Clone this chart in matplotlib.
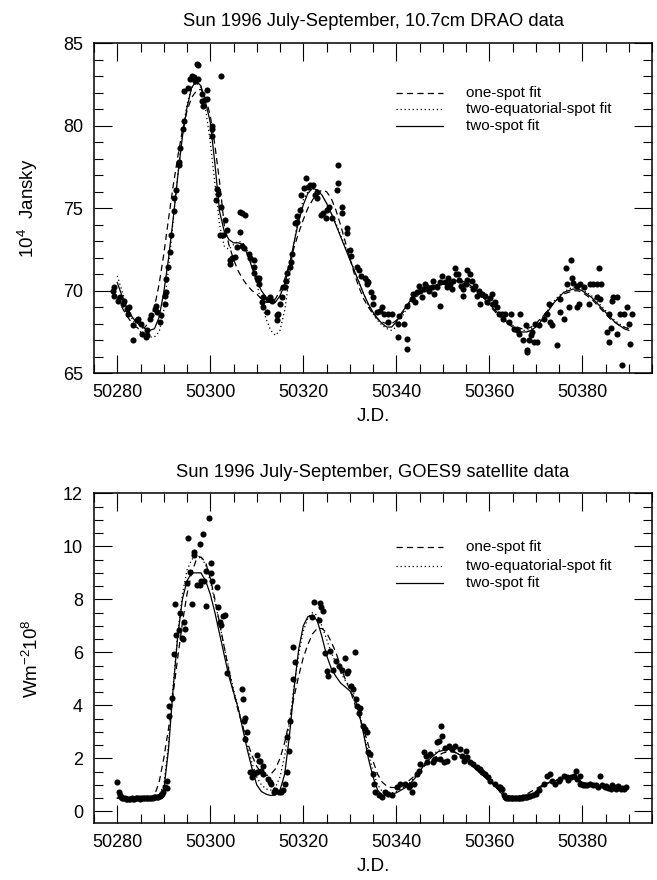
import numpy as np
import matplotlib
matplotlib.use("Agg")
import matplotlib.pyplot as plt
from matplotlib.ticker import MultipleLocator

plt.rcParams['font.family'] = ['Liberation Sans', 'DejaVu Sans']
plt.rcParams['mathtext.fontset'] = 'custom'
plt.rcParams['mathtext.rm'] = 'Liberation Sans'
plt.rcParams['mathtext.it'] = 'Liberation Sans:italic'
plt.rcParams['lines.scale_dashes'] = False

# ---------------- DRAO 10.7 cm data (top panel) ----------------
drao_jd = [50279.1, 50279.2, 50279.3, 50280.2, 50280.5, 50281.3, 50281.5, 50282.0, 50282.4, 50282.6,
           50283.3, 50283.4, 50284.2, 50284.5, 50285.2, 50285.3, 50286.1, 50286.3, 50286.5, 50287.0,
           50287.2, 50288.1, 50288.3, 50288.5, 50289.2, 50289.3, 50290.3, 50290.3, 50290.4, 50290.5,
           50291.0, 50291.3, 50291.5, 50292.1, 50292.3, 50292.6, 50293.2, 50293.3, 50293.5, 50294.2,
           50294.4, 50294.4, 50295.3, 50295.7, 50296.0, 50296.4, 50296.7, 50297.2, 50297.4, 50297.3,
           50298.2, 50298.3, 50298.5, 50299.2, 50299.3, 50300.3, 50300.3, 50300.4, 50301.4, 50301.6,
           50301.3, 50302.3, 50302.3, 50302.1, 50302.8, 50303.2, 50303.5, 50304.3, 50304.6, 50304.3,
           50305.3, 50305.8, 50306.4, 50306.8, 50307.5, 50306.4, 50306.9, 50307.3, 50308.4, 50308.5,
           50309.3, 50309.3, 50309.5, 50310.0, 50310.2, 50310.4, 50310.4, 50311.1, 50311.3, 50311.4,
           50312.2, 50312.5, 50312.9, 50313.2, 50314.3, 50314.3, 50314.6, 50315.0, 50315.4, 50315.7,
           50316.1, 50316.3, 50316.4, 50317.2, 50317.3, 50317.5, 50318.3, 50318.6, 50318.6, 50319.3,
           50319.5, 50320.2, 50320.6, 50321.1, 50321.4, 50322.2, 50322.6, 50323.0, 50323.0, 50323.8,
           50324.3, 50324.8, 50325.0, 50325.6, 50326.2, 50327.4, 50327.4, 50327.3, 50328.4, 50328.3,
           50329.4, 50329.5, 50330.1, 50330.3, 50331.5, 50331.9, 50332.5, 50333.3, 50333.6, 50333.8,
           50334.0, 50334.6, 50335.1, 50335.1, 50335.8, 50336.5, 50336.9, 50337.3, 50338.3, 50338.3,
           50339.1, 50340.3, 50340.5, 50340.4, 50341.6, 50342.3, 50342.3, 50342.4, 50343.4, 50343.7,
           50344.0, 50344.5, 50344.8, 50345.2, 50345.5, 50345.9, 50346.2, 50346.6, 50347.0, 50347.7,
           50347.9, 50348.2, 50348.8, 50349.3, 50349.5, 50349.9, 50350.5, 50350.9, 50351.2, 50351.6,
           50352.0, 50352.3, 50352.7, 50352.9, 50353.3, 50353.5, 50353.9, 50354.4, 50354.4, 50355.0,
           50355.2, 50355.2, 50355.9, 50356.3, 50356.6, 50357.0, 50357.4, 50357.8, 50358.1, 50358.4,
           50359.1, 50359.5, 50360.2, 50360.5, 50360.9, 50361.3, 50361.7, 50362.0, 50362.7, 50363.0,
           50363.4, 50364.2, 50364.6, 50365.3, 50366.0, 50366.3, 50366.7, 50367.3, 50367.8, 50368.1,
           50368.2, 50368.6, 50368.9, 50369.2, 50369.6, 50370.3, 50369.9, 50370.6, 50371.7, 50372.4,
           50372.8, 50373.1, 50373.5, 50374.6, 50375.3, 50375.3, 50376.0, 50376.4, 50376.7, 50377.1,
           50377.5, 50377.8, 50378.1, 50378.9, 50379.2, 50378.9, 50379.6, 50380.3, 50381.4, 50381.7,
           50382.4, 50383.1, 50383.6, 50384.1, 50383.1, 50383.8, 50385.4, 50385.8, 50386.1, 50385.8,
           50386.4, 50386.6, 50387.5, 50387.5, 50388.2, 50388.6, 50388.9, 50389.6, 50390.0, 50390.3,
           50390.6]
drao_flux = [70.0, 69.7, 70.2, 69.4, 69.6, 69.2, 69.4, 68.9, 68.6, 69.0,
             67.9, 67.0, 68.25, 68.3, 68.0, 67.4, 67.2, 67.65, 67.3, 68.3,
             68.5, 68.9, 69.05, 68.7, 68.1, 68.5, 69.2, 69.7, 69.9, 70.7,
             71.45, 72.35, 73.35, 74.8, 75.6, 76.1, 77.6, 77.8, 78.65, 79.8,
             80.3, 82.1, 82.3, 82.8, 83.0, 82.95, 82.7, 83.75, 83.65, 82.8,
             81.9, 81.5, 81.2, 82.15, 81.6, 80.0, 79.4, 79.8, 76.15, 75.85,
             75.5, 75.1, 83.0, 73.4, 73.4, 74.3, 73.7, 71.85, 72.0, 71.6,
             72.05, 72.65, 74.75, 74.7, 74.6, 73.55, 72.7, 72.6, 72.25, 72.0,
             71.45, 71.85, 71.1, 70.8, 70.65, 70.75, 70.4, 69.3, 69.0, 69.6,
             68.7, 69.5, 69.6, 69.4, 68.5, 68.2, 68.6, 69.2, 69.6, 70.2,
             70.2, 70.6, 71.1, 71.45, 71.75, 72.25, 74.1, 74.5, 74.15, 74.9,
             75.8, 76.2, 76.85, 76.3, 76.4, 76.4, 75.8, 75.6, 76.0, 74.6,
             74.7, 74.4, 74.9, 75.1, 74.4, 77.6, 76.5, 76.1, 75.1, 74.7,
             73.8, 73.5, 72.45, 72.1, 71.45, 71.25, 70.9, 70.8, 70.4, 70.6,
             70.5, 69.9, 69.6, 69.2, 68.7, 68.8, 69.0, 68.6, 68.6, 68.1,
             68.6, 67.2, 68.45, 68.0, 68.0, 67.1, 66.45, 69.05, 69.5, 69.8,
             69.3, 69.9, 70.3, 70.0, 69.6, 70.1, 70.4, 70.2, 70.0, 70.2,
             70.6, 69.8, 70.2, 69.1, 70.5, 70.9, 70.5, 70.2, 70.8, 70.4,
             70.1, 70.6, 71.35, 71.0, 71.0, 70.65, 70.3, 69.7, 70.1, 70.4,
             71.25, 70.65, 71.0, 70.6, 70.1, 70.3, 69.7, 70.0, 69.2, 69.8,
             69.7, 69.3, 69.55, 69.8, 69.2, 69.3, 69.0, 68.6, 68.6, 68.3,
             68.6, 68.1, 68.6, 67.7, 67.6, 67.4, 68.6, 67.0, 67.9, 66.4,
             66.3, 67.0, 67.3, 67.5, 66.9, 66.9, 68.0, 67.9, 68.3, 68.6,
             69.2, 68.1, 67.9, 66.7, 68.7, 69.5, 68.3, 71.35, 70.4, 69.0,
             71.85, 70.75, 70.45, 69.0, 69.2, 70.3, 70.4, 70.2, 69.2, 70.4,
             70.4, 70.4, 71.35, 70.4, 69.6, 69.5, 67.5, 66.9, 67.75, 68.6,
             69.4, 69.6, 69.6, 67.4, 68.6, 65.5, 68.6, 69.0, 68.0, 66.8,
             68.6]

# fits for top panel, one value per day starting at JD 50280
fit_start = 50280
drao_one_spot = [69.6, 69.0, 68.5, 68.1, 67.8, 67.7, 67.8, 68.2, 69.0, 70.4,
                 72.2, 74.3, 76.3, 78.1, 79.7, 80.9, 81.7, 82.1, 82.2, 81.7,
                 80.6, 78.8, 76.6, 74.0, 72.8, 71.9, 71.2, 70.7, 70.3, 70.0,
                 69.8, 69.5, 69.3, 69.3, 69.5, 70.0, 70.7, 71.6, 72.6, 73.5,
                 74.3, 75.0, 75.5, 75.9, 76.1, 76.0, 75.6, 74.9, 74.0, 73.0,
                 72.0, 71.0, 70.2, 69.5, 69.0, 68.6, 68.3, 68.1, 68.0, 68.0,
                 68.2, 68.5, 68.9, 69.3, 69.6, 69.8, 70.0, 70.1, 70.2, 70.3,
                 70.4, 70.5, 70.5, 70.5, 70.5, 70.4, 70.2, 70.0, 69.7, 69.4,
                 69.1, 68.8, 68.5, 68.3, 68.1, 67.9, 67.8, 67.7, 67.7, 67.8,
                 68.0, 68.3, 68.6, 69.0, 69.3, 69.6, 69.8, 69.9, 70.0, 70.0,
                 69.9, 69.7, 69.5, 69.2, 68.9, 68.6, 68.3, 68.1, 67.9, 67.8,
                 67.7]
drao_two_eq_spot = [70.9, 70.0, 69.1, 68.4, 67.9, 67.5, 67.3, 67.2, 67.2, 67.5,
                    68.8, 71.3, 74.2, 77.0, 79.5, 81.3, 82.3, 82.6, 82.3, 81.0,
                    79.0, 76.5, 74.0, 72.7, 72.5, 72.8, 73.0, 72.9, 72.4, 71.5,
                    70.4, 69.3, 68.3, 67.6, 67.3, 67.6, 68.8, 70.8, 72.9, 74.5,
                    75.5, 76.0, 76.2, 76.1, 75.8, 75.3, 74.7, 74.1, 73.4, 72.7,
                    72.0, 71.2, 70.5, 69.8, 69.1, 68.6, 68.2, 67.9, 67.7, 67.6,
                    67.8, 68.3, 68.8, 69.2, 69.5, 69.8, 70.0, 70.1, 70.2, 70.3,
                    70.4, 70.5, 70.6, 70.6, 70.6, 70.5, 70.4, 70.2, 69.9, 69.6,
                    69.3, 69.0, 68.7, 68.4, 68.1, 67.9, 67.7, 67.6, 67.6, 67.7,
                    67.9, 68.2, 68.6, 69.0, 69.4, 69.7, 69.9, 70.1, 70.2, 70.2,
                    70.1, 69.9, 69.7, 69.4, 69.1, 68.8, 68.5, 68.2, 68.0, 67.8,
                    67.7]
drao_two_spot = [70.5, 69.7, 69.0, 68.5, 68.1, 67.9, 67.7, 67.6, 67.7, 68.4,
                 69.9, 71.9, 74.3, 76.9, 79.3, 81.1, 82.3, 82.7, 82.4, 81.4,
                 80.2, 77.7, 74.8, 73.6, 73.1, 72.9, 72.9, 72.8, 72.2, 71.4,
                 70.6, 70.0, 69.6, 69.3, 69.3, 69.7, 70.4, 71.5, 72.9, 74.2,
                 75.2, 75.9, 76.2, 76.1, 75.8, 75.3, 74.7, 74.0, 73.3, 72.6,
                 71.9, 71.2, 70.5, 69.8, 69.2, 68.7, 68.3, 68.0, 67.8, 67.8,
                 68.1, 68.6, 69.0, 69.4, 69.7, 69.9, 70.1, 70.2, 70.3, 70.4,
                 70.4, 70.5, 70.6, 70.6, 70.6, 70.5, 70.3, 70.1, 69.8, 69.5,
                 69.2, 68.9, 68.6, 68.3, 68.0, 67.8, 67.6, 67.5, 67.5, 67.6,
                 67.8, 68.1, 68.5, 68.9, 69.3, 69.6, 69.9, 70.0, 70.1, 70.1,
                 70.0, 69.8, 69.6, 69.3, 69.0, 68.7, 68.4, 68.1, 67.9, 67.7,
                 67.6]

# ---------------- GOES9 data (bottom panel) ----------------
goes_jd = [50280.0, 50280.3, 50280.5, 50280.8, 50281.0,
           50281.3, 50281.6, 50281.9, 50282.2, 50282.5, 50282.8, 50283.1, 50283.4, 50283.7, 50284.0,
           50284.3, 50284.6, 50284.9, 50285.2, 50285.5, 50285.8, 50286.1, 50286.4, 50286.7, 50287.0,
           50287.3, 50287.6, 50287.9, 50288.2, 50288.5, 50288.8, 50289.1, 50289.4, 50289.7,
           50289.9, 50290.3, 50290.6, 50290.6, 50291.2, 50291.2, 50291.7, 50292.1, 50292.4, 50292.6,
           50293.2, 50293.4, 50293.9, 50294.1, 50294.4, 50294.6, 50294.9, 50295.2, 50295.7, 50296.0,
           50296.4, 50296.6, 50297.1, 50297.7, 50297.8, 50298.0, 50298.4, 50298.6, 50299.0, 50299.1,
           50299.7, 50300.1, 50300.2, 50300.4, 50301.4, 50301.6, 50302.1, 50302.3, 50302.8, 50303.2,
           50303.5, 50306.8, 50307.0, 50307.3, 50307.5, 50307.5, 50307.9, 50308.6, 50308.9, 50309.0,
           50310.0, 50310.5, 50309.3, 50310.0, 50310.7, 50311.0, 50311.4, 50311.3, 50312.5, 50312.8,
           50313.0, 50313.6, 50313.9, 50314.7, 50315.2, 50315.7, 50316.0, 50316.5, 50317.0, 50316.6,
           50317.2, 50317.9, 50318.3, 50317.7, 50322.3, 50321.8, 50323.6, 50323.9, 50324.2, 50323.3,
           50324.7, 50325.1, 50325.4, 50325.8, 50326.5, 50327.1, 50327.6, 50328.3, 50329.0, 50329.4,
           50329.7, 50331.1, 50330.2, 50330.6, 50331.4, 50331.6, 50332.2, 50331.9, 50332.8, 50333.3,
           50333.6, 50334.0, 50334.4, 50335.1, 50335.3, 50335.5, 50336.2, 50336.9, 50337.6, 50338.3,
           50339.0, 50340.1, 50340.8, 50341.9, 50342.7, 50343.0, 50343.4, 50343.8, 50344.5, 50344.8,
           50345.2, 50345.9, 50346.5, 50346.6, 50347.3, 50347.9, 50348.4, 50348.8, 50349.1, 50349.7,
           50349.9, 50349.5, 50350.5, 50350.3, 50351.0, 50351.3, 50352.0, 50352.7, 50352.4, 50353.8,
           50354.2, 50354.5, 50354.9, 50355.2, 50355.9, 50356.6, 50357.4, 50358.1, 50358.4, 50359.1,
           50359.8, 50360.2, 50361.3, 50362.0, 50362.4, 50362.7, 50363.1, 50363.4,
           50363.7, 50364.0, 50364.3, 50364.6, 50364.9, 50365.2, 50365.5, 50365.8, 50366.1, 50366.4,
           50366.7, 50367.0, 50367.3, 50367.6, 50367.9, 50368.2, 50368.5, 50368.8,
           50369.4, 50370.1, 50370.6, 50371.7, 50372.4, 50373.1, 50373.5, 50374.2, 50374.9, 50375.3,
           50376.0, 50376.7, 50377.0, 50377.6, 50378.2, 50378.7, 50378.9, 50379.6, 50379.6, 50380.2,
           50380.6, 50381.0, 50381.7, 50382.4, 50382.9, 50383.3, 50383.9, 50384.2, 50384.8, 50385.0,
           50385.5, 50386.2, 50386.5, 50386.9, 50387.2, 50387.6, 50388.3, 50388.6, 50389.0, 50389.3]
goes_flux = [1.12, 0.72, 0.62, 0.55, 0.52,
             0.50, 0.49, 0.48, 0.48, 0.48, 0.48, 0.49, 0.48, 0.48, 0.49,
             0.49, 0.49, 0.48, 0.49, 0.49, 0.50, 0.50, 0.50, 0.51, 0.51,
             0.52, 0.52, 0.53, 0.54, 0.55, 0.56, 0.58, 0.60, 0.64,
             0.73, 0.91, 1.16, 0.90, 3.6, 3.97, 4.29, 5.94, 7.81, 6.64,
             6.83, 7.48, 6.54, 6.5, 7.16, 6.9, 8.62, 10.33, 9.04, 7.81,
             9.66, 9.8, 8.54, 10.1, 8.54, 8.7, 10.45, 8.7, 7.76, 9.06,
             11.08, 9.37, 9.0, 8.68, 8.45, 7.73, 7.16, 7.05, 7.38, 7.4,
             5.23, 4.63, 4.25, 3.41, 3.53, 2.73, 3.0, 1.48, 1.29, 1.48,
             2.13, 1.9, 1.4, 1.48, 1.91, 1.54, 1.73, 1.4, 1.23, 1.1,
             1.04, 0.73, 0.8, 0.73, 0.73, 0.8, 1.04, 1.48, 2.29, 2.79,
             3.41, 4.98, 5.64, 6.22, 7.91, 7.35, 7.87, 7.7, 7.55, 7.22,
             5.98, 5.29, 5.1, 6.04, 5.35, 5.66, 5.47, 5.35, 5.79, 5.23,
             5.3, 6.0, 4.73, 4.6, 4.23, 3.98, 3.91, 3.72, 3.22, 3.1,
             3.0, 2.23, 2.16, 1.41, 1.04, 0.73, 0.6, 0.54, 0.73, 0.66,
             0.6, 0.91, 1.04, 1.04, 0.91, 1.0, 0.73, 1.04, 1.41, 1.54,
             1.79, 2.23, 2.1, 1.85, 2.16, 1.85, 1.98, 2.6, 2.67, 3.22,
             2.85, 1.98, 2.41, 1.85, 1.91, 2.48, 2.35, 2.48, 2.04, 2.35,
             2.1, 1.91, 2.29, 2.04, 1.85, 1.79, 1.66, 1.6, 1.48, 1.41,
             1.29, 1.16, 1.04, 0.91, 0.91, 0.85, 0.6, 0.54,
             0.52, 0.50, 0.50, 0.49, 0.50, 0.50, 0.50, 0.51, 0.50, 0.51,
             0.52, 0.52, 0.53, 0.53, 0.55, 0.55, 0.57, 0.58,
             0.6, 0.66, 0.79, 1.04, 1.35, 1.41, 1.16, 1.04, 1.16, 1.23,
             1.35, 1.29, 1.2, 1.3, 1.35, 1.54, 1.23, 1.35, 1.04, 1.0,
             0.98, 1.0, 1.04, 0.98, 1.0, 0.91, 1.35, 1.0, 0.91, 0.95,
             0.88, 0.85, 1.0, 0.91, 0.85, 0.95, 0.85, 0.9, 0.85, 0.91]

goes_one_spot = [0.50, 0.50, 0.50, 0.50, 0.50, 0.50, 0.50, 0.50, 0.6, 1.1,
                 2.0, 3.1, 4.4, 5.8, 7.1, 8.2, 9.0, 9.5, 9.6, 9.4,
                 8.8, 8.0, 7.1, 6.2, 5.3, 4.5, 3.8, 3.2, 2.6, 2.1,
                 1.7, 1.45, 1.35, 1.4, 1.6, 2.0, 2.6, 3.4, 4.3, 5.1,
                 5.8, 6.3, 6.7, 6.9, 6.9, 6.75, 6.4, 6.0, 5.5, 5.0,
                 4.6, 4.1, 3.6, 3.1, 2.5, 1.9, 1.4, 1.1, 0.95, 0.9,
                 0.9, 0.95, 1.05, 1.2, 1.35, 1.5, 1.7, 1.85, 2.0, 2.1,
                 2.2, 2.25, 2.25, 2.2, 2.1, 2.0, 1.85, 1.7, 1.55, 1.35,
                 1.2, 1.0, 0.85, 0.7, 0.6, 0.55, 0.55, 0.6, 0.65, 0.75,
                 0.85, 0.95, 1.05, 1.1, 1.15, 1.2, 1.2, 1.2, 1.2, 1.15,
                 1.1, 1.05, 1.0, 0.95, 0.95, 0.9, 0.9, 0.85, 0.85, 0.8]
goes_two_eq_spot = [0.50, 0.50, 0.50, 0.50, 0.50, 0.50, 0.50, 0.50, 0.52, 0.6,
                    1.0, 2.5, 4.7, 6.7, 8.2, 9.1, 9.5, 9.65, 9.6, 9.3,
                    8.7, 7.9, 7.1, 6.2, 5.4, 4.6, 3.9, 3.2, 2.5, 1.8,
                    1.3, 1.0, 0.85, 0.8, 0.9, 1.3, 2.1, 3.3, 4.7, 5.9,
                    6.8, 7.3, 7.5, 7.4, 7.0, 6.5, 6.0, 5.6, 5.25, 4.95,
                    4.7, 4.4, 3.8, 3.0, 2.2, 1.5, 1.0, 0.75, 0.7, 0.7,
                    0.75, 0.85, 0.95, 1.1, 1.3, 1.55, 1.8, 2.0, 2.15, 2.3,
                    2.35, 2.35, 2.3, 2.2, 2.1, 1.95, 1.8, 1.6, 1.45, 1.3,
                    1.15, 1.0, 0.8, 0.6, 0.5, 0.5, 0.5, 0.5, 0.55, 0.6,
                    0.75, 0.9, 1.0, 1.1, 1.15, 1.2, 1.25, 1.25, 1.25, 1.2,
                    1.1, 1.05, 1.0, 0.95, 0.95, 0.9, 0.9, 0.85, 0.85, 0.8]
goes_two_spot = [0.50, 0.50, 0.50, 0.50, 0.50, 0.50, 0.50, 0.50, 0.51, 0.53,
                 0.8, 2.3, 4.6, 6.6, 8.0, 8.7, 9.0, 9.0, 9.0, 8.7,
                 8.2, 7.5, 6.7, 5.9, 5.1, 4.5, 3.9, 3.1, 2.3, 1.6,
                 1.0, 0.75, 0.65, 0.6, 0.62, 0.8, 1.4, 2.8, 4.6, 6.1,
                 7.0, 7.35, 7.4, 7.2, 6.6, 5.9, 5.4, 5.1, 4.85, 4.7,
                 4.55, 4.3, 3.7, 2.9, 2.0, 1.3, 0.8, 0.6, 0.6, 0.65,
                 0.7, 0.8, 0.9, 1.05, 1.25, 1.5, 1.75, 1.95, 2.1, 2.25,
                 2.3, 2.35, 2.3, 2.2, 2.1, 1.95, 1.8, 1.6, 1.45, 1.3,
                 1.15, 1.0, 0.8, 0.6, 0.5, 0.5, 0.5, 0.5, 0.55, 0.6,
                 0.75, 0.9, 1.0, 1.1, 1.15, 1.2, 1.25, 1.25, 1.25, 1.2,
                 1.1, 1.05, 1.0, 0.95, 0.95, 0.9, 0.9, 0.85, 0.85, 0.8]

fit_labels = ["one-spot fit", "two-equatorial-spot fit", "two-spot fit"]
titles = ["Sun 1996 July-September, 10.7cm DRAO data",
          "Sun 1996 July-September, GOES9 satellite data"]
ylabels = [r"10$^{4}$  Jansky", r"Wm$^{-2}$10$^{8}$"]
xlabel = "J.D."

styles = [dict(ls=(0, (4.5, 3.0))), dict(ls=(0, (0.9, 2.0))), dict(ls='-')]

fig = plt.figure(figsize=(6.57, 8.80), dpi=100)
ax1 = fig.add_axes([0.1431, 0.5758, 0.8493, 0.3753])
ax2 = fig.add_axes([0.1431, 0.0644, 0.8493, 0.3750])

panels = [
    (ax1, drao_jd, drao_flux, [drao_one_spot, drao_two_eq_spot, drao_two_spot],
     (65, 85), 5, 1, [0.8495, 0.799, 0.748], -0.097),
    (ax2, goes_jd, goes_flux, [goes_one_spot, goes_two_eq_spot, goes_two_spot],
     (-0.45, 12), 2, 0.5, [0.836, 0.779, 0.727], -0.093),
]

for i, (ax, xd, yd, fits, ylim, ymaj, ymin, legy, ylx) in enumerate(panels):
    ax.plot(xd, yd, 'o', color='black', ms=4.4, mew=0, zorder=3)
    for fv, st in zip(fits, styles):
        fx = np.arange(len(fv)) + fit_start
        ax.plot(fx, fv, color='black', lw=0.9, zorder=2, **st)
    # legend drawn manually
    for ly, st, lab in zip(legy, styles, fit_labels):
        ax.plot([0.541, 0.625], [ly, ly], transform=ax.transAxes, color='black',
                lw=0.9, **st)
        ax.text(0.667, ly, lab, transform=ax.transAxes, fontsize=11,
                va='center', ha='left')
    ax.set_xlim(50275, 50395)
    ax.set_ylim(*ylim)
    ax.xaxis.set_major_locator(MultipleLocator(20))
    ax.xaxis.set_minor_locator(MultipleLocator(5))
    ax.yaxis.set_major_locator(MultipleLocator(ymaj))
    ax.yaxis.set_minor_locator(MultipleLocator(ymin))
    ax.tick_params(which='both', direction='in', top=True, right=True,
                   labelsize=13, width=0.8)
    ax.tick_params(which='major', length=13, pad=8)
    ax.tick_params(which='minor', length=6.5)
    for s in ax.spines.values():
        s.set_linewidth(1.1)
    ax.set_title(titles[i], fontsize=13.2, pad=12)
    ax.set_xlabel(xlabel, fontsize=13.5, labelpad=5)
    ax.set_ylabel(ylabels[i], fontsize=13.5)
    ax.yaxis.set_label_coords(ylx, 0.5)

fig.savefig("out.png", dpi=100)
